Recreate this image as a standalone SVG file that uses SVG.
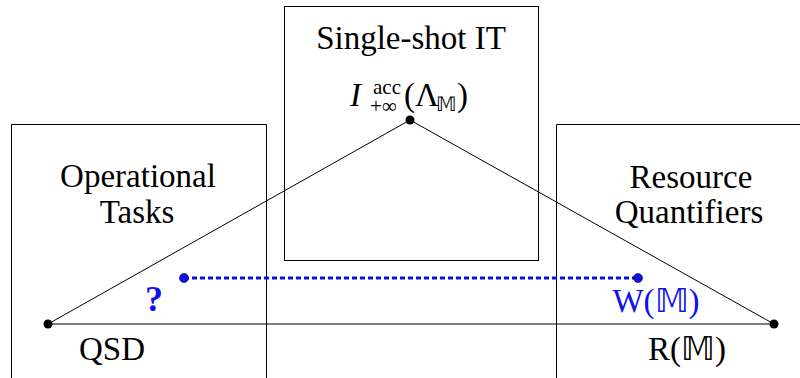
<svg xmlns="http://www.w3.org/2000/svg" width="800" height="378" viewBox="0 0 800 378">
<style>
.box{fill:none;stroke:#000;stroke-width:1}
.b{fill:#1010ee}
.edge{stroke:#000;stroke-width:1;fill:none}
</style>
<rect width="800" height="378" fill="#fff"/>
<g font-family="Liberation Serif, serif" font-size="33" fill="#000">
<g id="operational">
<path class="box" d="M11.5 378V124.5H266.5V378"/>
<text x="138" y="187" text-anchor="middle">Operational</text>
<text x="137" y="223" text-anchor="middle">Tasks</text>
</g>
<g id="singleshot">
<rect class="box" x="284.5" y="6.5" width="254" height="254"/>
<text x="411" y="49" text-anchor="middle">Single-shot IT</text>
<text x="350" y="106"><tspan font-style="italic">I</tspan><tspan x="373" y="94" font-size="21">acc</tspan><tspan x="370" y="113" font-size="21">+∞</tspan><tspan x="404" y="106">(Λ</tspan><tspan x="436" y="111" font-size="20">𝕄</tspan><tspan x="457" y="106">)</tspan></text>
</g>
<g id="resource">
<path class="box" d="M556.5 378V124.5H800"/>
<text x="691" y="188" text-anchor="middle">Resource</text>
<text x="689" y="223" text-anchor="middle">Quantifiers</text>
</g>
<g id="connectors">
<path class="edge" d="M48 324L410 120L774 324Z"/>
<line x1="184" y1="278" x2="638" y2="278" stroke="#1010ee" stroke-width="3" stroke-dasharray="5,3"/>
</g>
<g id="points">
<circle cx="48" cy="324" r="4.5"/>
<circle cx="410" cy="120" r="4.5"/>
<circle cx="774" cy="324" r="4.5"/>
<circle cx="184" cy="278" r="4.5" fill="#1010ee" stroke="#000" stroke-width="0.6"/>
<circle cx="638" cy="278" r="4.5" fill="#1010ee" stroke="#000" stroke-width="0.6"/>
</g>
<g id="labels">
<text class="b" x="154" y="311" text-anchor="middle" font-weight="bold" font-size="36">?</text>
<text x="112" y="360" text-anchor="middle">QSD</text>
<text x="687" y="360" text-anchor="middle">R(𝕄)</text>
<text class="b" x="656" y="312" text-anchor="middle">W(𝕄)</text>
</g>
</g>
</svg>
